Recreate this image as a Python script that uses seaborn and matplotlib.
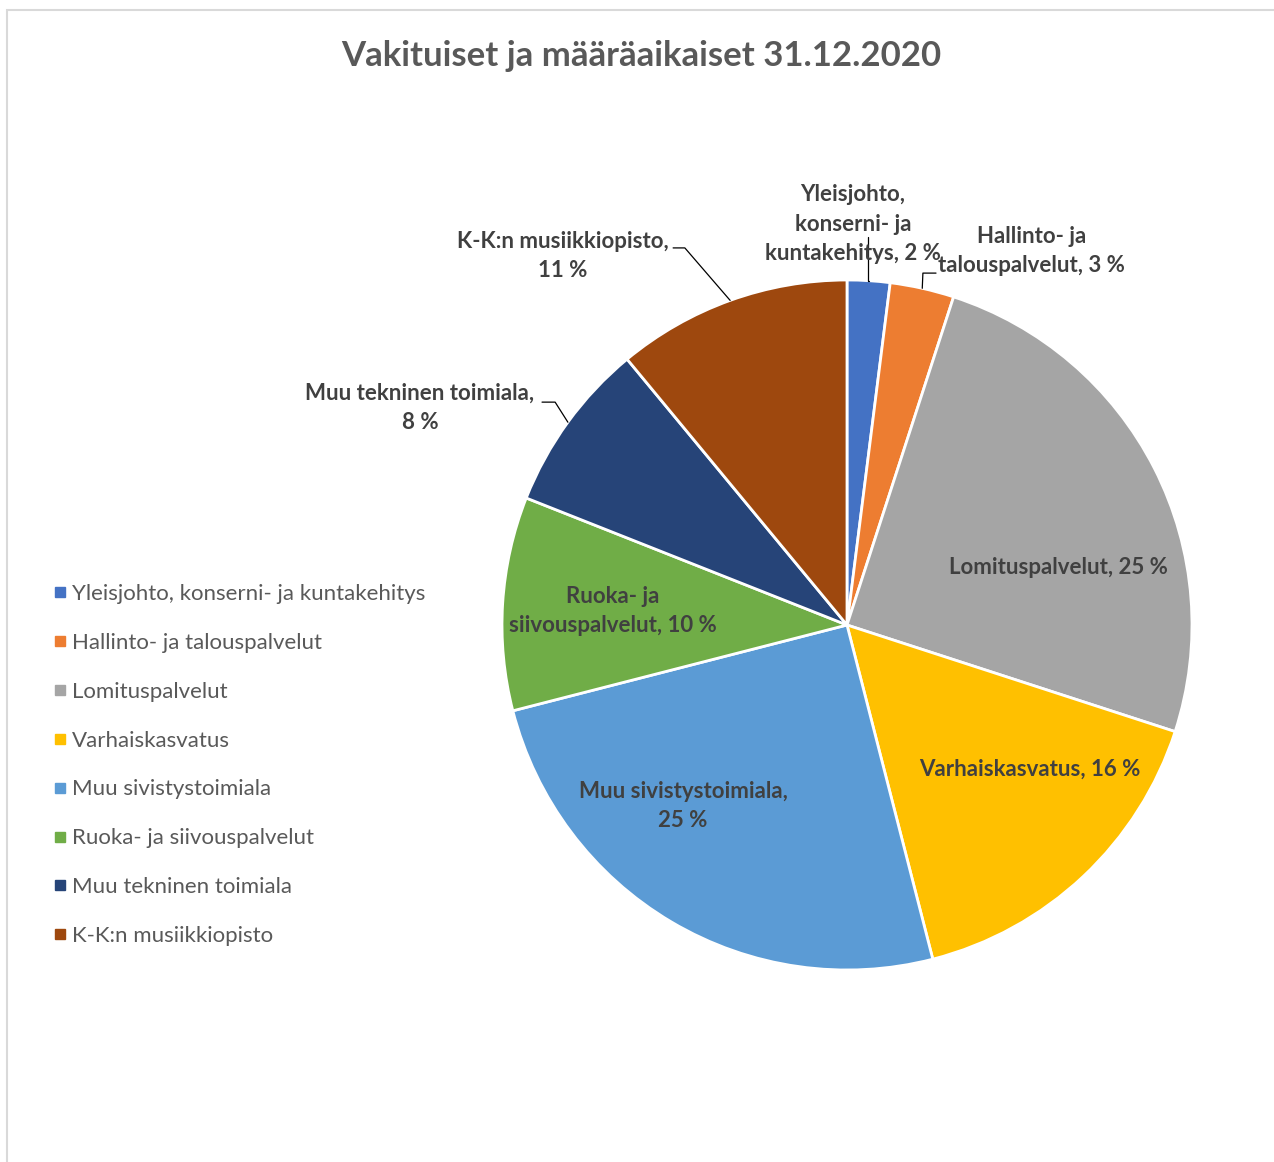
import matplotlib
matplotlib.use("Agg")
import matplotlib.pyplot as plt
import seaborn as sns
import numpy as np
from matplotlib.lines import Line2D
from matplotlib.patches import Rectangle

# data
categories = [
    "Yleisjohto, konserni- ja kuntakehitys",
    "Hallinto- ja talouspalvelut",
    "Lomituspalvelut",
    "Varhaiskasvatus",
    "Muu sivistystoimiala",
    "Ruoka- ja siivouspalvelut",
    "Muu tekninen toimiala",
    "K-K:n musiikkiopisto",
]
shares = [2, 3, 25, 16, 25, 10, 8, 11]
label_names = [
    "Yleisjohto,\nkonserni- ja\nkuntakehitys,",
    "Hallinto- ja\ntalouspalvelut,",
    "Lomituspalvelut,",
    "Varhaiskasvatus,",
    "Muu sivistystoimiala,\n",
    "Ruoka- ja\nsiivouspalvelut,",
    "Muu tekninen toimiala,\n",
    "K-K:n musiikkiopisto,\n",
]
title = "Vakituiset ja määräaikaiset 31.12.2020"

colors = sns.color_palette(["#4472C4", "#ED7D31", "#A5A5A5", "#FFC000",
                            "#5B9BD5", "#70AD47", "#264478", "#9E480E"])

# label layout (data units, pie radius = 1)
label_pos = [(0.017, 1.162), (0.536, 1.084), (0.614, 0.168), (0.530, -0.417),
             (-0.475, -0.525), (-0.678, 0.041), (-1.238, 0.629), (-0.823, 1.070)]
# leader line elbows for outside labels
leaders = {
    0: [(0.061, 1.125), (0.061, None)],
    1: [(0.258, 1.020), (0.220, 1.020)],
    6: [(-0.884, 0.646), (-0.846, 0.646)],
    7: [(-0.504, 1.093), (-0.470, 1.093)],
}

sns.set_theme(style="white")
plt.rcParams["font.family"] = ["Lato", "DejaVu Sans"]

W, H = 1274, 1162
fig = plt.figure(figsize=(W / 100, H / 100), dpi=100)
fig.patch.set_facecolor("white")
fig.add_artist(Rectangle((7 / W, -0.01), 1.02, 1 - 10 / H + 0.01,
                         transform=fig.transFigure, fill=False,
                         edgecolor="#D9D9D9", linewidth=1.5))

R = 345
cx, cy = 847, 625
ax = fig.add_axes([(cx - R) / W, (H - cy - R) / H, 2 * R / W, 2 * R / H])
wedges, _ = ax.pie(shares, colors=colors, startangle=90, counterclock=False,
                   radius=1, wedgeprops=dict(edgecolor="white", linewidth=2))
ax.set_xlim(-1, 1)
ax.set_ylim(-1, 1)
ax.set_aspect("equal")
ax.axis("off")

lab_color = "#404040"
for i, (name, v) in enumerate(zip(label_names, shares)):
    txt = f"{name} {v} %" if not name.endswith("\n") else f"{name}{v} %"
    x, y = label_pos[i]
    ax.text(x, y, txt, ha="center", va="center", fontsize=16,
            fontweight="bold", color=lab_color, linespacing=1.5,
            clip_on=False)
    if i in leaders:
        w = wedges[i]
        mid = np.deg2rad((w.theta1 + w.theta2) / 2)
        ex, ey = np.cos(mid), np.sin(mid)
        pts = []
        for px, py in leaders[i]:
            pts.append((px, ey if py is None else py))
        pts.append((ex, ey))
        xs, ys = zip(*pts)
        ax.plot(xs, ys, color="black", linewidth=0.9, clip_on=False)

fig.text(641 / W, 1 - 56 / H, title, ha="center", va="center",
         fontsize=25, fontweight="bold", color="#595959")

handles = [Line2D([], [], marker="s", linestyle="none", markersize=7,
                  markerfacecolor=c, markeredgecolor=c) for c in colors]
leg = fig.legend(handles, categories, loc="upper left",
                 bbox_to_anchor=(40 / W, 1 - 575 / H), frameon=False,
                 fontsize=16, labelspacing=1.3, handletextpad=0.05,
                 handlelength=1.0, borderaxespad=0)
for t in leg.get_texts():
    t.set_color("#595959")

fig.savefig("out.png", dpi=100, facecolor="white")
